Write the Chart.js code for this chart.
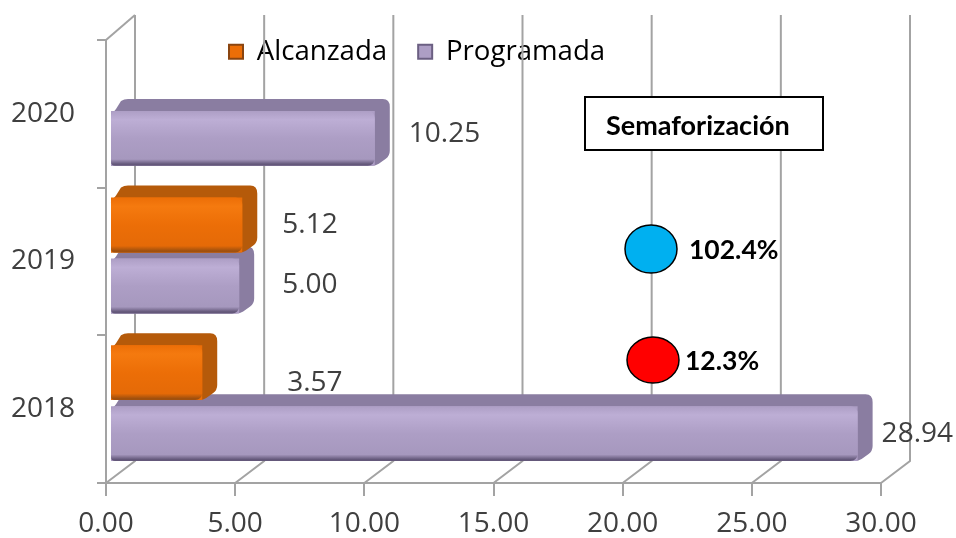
<!DOCTYPE html>
<html><head><meta charset="utf-8">
<style>html,body{margin:0;padding:0;background:#fff}canvas{display:block}</style>
<script src="https://cdn.jsdelivr.net/npm/chart.js@4"></script></head>
<body><canvas id="c" width="956" height="538"></canvas>
<script>
const categories = ['2020', '2019', '2018'];
const alcanzada = [null, 5.12, 3.57];
const programada = [10.25, 5.00, 28.94];
const seriesNames = ['Alcanzada', 'Programada'];
const semaforoTitle = 'Semaforización';
const semaforoLabels = ['102.4%', '12.3%'];
const semaforoColors = ['#00b0f0', '#ff0000'];

const DX = 15, DY = -12, WALLX = 29, WALLY = -22;
const AXIS = '#a3a3a3', INK = '#3f3f3f';
const FONT = '"Open Sans"';
const palette = [
  {base:'#ec6e07', hi:'#f57a0f', low:'#e56a07', edge:'#a0500e', dark:'#b55a0a'},
  {base:'#ad9ec5', hi:'#bdaed5', low:'#a698be', edge:'#64587a', dark:'#8a7da1'}
];
// label nudges from the bar's outer end: [dataset][category] => [dx, y-centre from the bar centre]
const labelNudge = [
  [null, [25, 0], [70, 10]],
  [[19, -4], [28, -1], [9, 0]]
];

const threeD = {
  id: 'threeD',
  beforeDatasetsDraw(chart) {
    const c = chart.ctx, x = chart.scales.x, y = chart.scales.y;
    const top = y.top - 25 , bottom = y.bottom + WALLY;
    c.save();
    c.strokeStyle = AXIS; c.lineWidth = 2;
    x.ticks.forEach(t => {
      const px = x.getPixelForValue(t.value);
      c.beginPath();
      c.moveTo(px, y.bottom);
      c.lineTo(px + WALLX, bottom);
      c.lineTo(px + WALLX, top);
      c.stroke();
    });
    c.beginPath();
    c.moveTo(x.left, y.top); c.lineTo(x.left + WALLX, top);
    c.stroke();
    c.restore();
    c.save();
    c.translate(4, -6);
  },
  beforeDatasetDraw(chart, args) {
    const c = chart.ctx, p = palette[args.index];
    args.meta.data.forEach((b, i) => {
      if (chart.data.datasets[args.index].data[i] == null) return;
      const h = b.height, l = b.base, r = b.x, t = b.y - h / 2, bt = b.y + h / 2;
      c.save();
      c.fillStyle = p.dark;
      c.beginPath();
      c.moveTo(l, t + 6);
      c.quadraticCurveTo(l + 1, t + 2, l + 5, t - 2);
      c.lineTo(l + DX - 5, t + DY + 2);
      c.quadraticCurveTo(l + DX - 2, t + DY, l + DX + 2, t + DY);
      c.lineTo(r + DX - 7, t + DY);
      c.quadraticCurveTo(r + DX, t + DY, r + DX, t + DY + 8);
      c.lineTo(r + DX, bt + DY - 3);
      c.quadraticCurveTo(r + DX, bt + DY + 2, r + DX - 4, bt + DY + 5);
      c.lineTo(r + 4, bt - 2);
      c.quadraticCurveTo(r + 1, bt, r - 3, bt);
      c.lineTo(l, bt);
      c.closePath();
      c.fill();
      c.restore();
    });
  },
  afterDatasetDraw(chart, args) {
    const c = chart.ctx, p = palette[args.index];
    args.meta.data.forEach((b, i) => {
      if (chart.data.datasets[args.index].data[i] == null) return;
      const h = b.height, l = b.base, r = b.x, t = b.y - h / 2;
      const g = c.createLinearGradient(0, t, 0, t + h);
      g.addColorStop(0, p.base);
      g.addColorStop(0.16, p.hi);
      g.addColorStop(0.5, p.base);
      g.addColorStop(0.88, p.low);
      g.addColorStop(0.97, p.edge);
      g.addColorStop(1, p.edge);
      c.save();
      c.fillStyle = g;
      c.beginPath();
      c.roundRect(l, t, r - l, h, [5, 7, 7, 4]);
      c.fill();
      c.restore();
    });
  },
  afterDatasetsDraw(chart) {
    const c = chart.ctx;
    c.restore();
    // value labels
    c.save();
    c.fillStyle = INK;
    c.font = '28px ' + FONT;
    c.textBaseline = 'middle';
    c.textAlign = 'left';
    chart.data.datasets.forEach((ds, di) => {
      const meta = chart.getDatasetMeta(di);
      ds.data.forEach((v, i) => {
        if (v == null) return;
        const b = meta.data[i], n = labelNudge[di][i];
        c.fillText(v.toFixed(2), b.x + 4 + DX + n[0], b.y - 6 + n[1]);
      });
    });
    // semaforización panel
    c.fillStyle = '#fff'; c.strokeStyle = '#000'; c.lineWidth = 2;
    c.fillRect(585, 97, 238, 53); c.strokeRect(585, 97, 238, 53);
    c.fillStyle = '#000';
    c.font = 'bold 27px Lato';
    c.fillText(semaforoTitle, 606, 126);
    c.font = 'bold 26.5px Lato';
    [[651, 249, 26, 24, 689, 250], [653, 360, 26, 23, 685, 361]].forEach((a, i) => {
      c.fillStyle = semaforoColors[i];
      c.strokeStyle = '#000'; c.lineWidth = 1.5;
      c.beginPath(); c.ellipse(a[0], a[1], a[2], a[3], 0, 0, Math.PI * 2);
      c.fill(); c.stroke();
      c.fillStyle = '#000';
      c.fillText(semaforoLabels[i], a[4], a[5]);
    });
    c.restore();
  },
  afterLayout(chart) {
    const lg = chart.legend;
    lg.top = 7; lg.bottom = 100;
    lg.left = 198; lg.right = 198 + 500;
  }
};

new Chart(document.getElementById('c'), {
  type: 'bar',
  plugins: [threeD],
  data: {
    labels: categories,
    datasets: [
      {label: seriesNames[0], data: alcanzada, backgroundColor: palette[0].base, borderColor: '#8a4510', clip: false,
       categoryPercentage: 0.826, barPercentage: 0.9},
      {label: seriesNames[1], data: programada, backgroundColor: palette[1].base, borderColor: '#6b5f82', clip: false,
       categoryPercentage: 0.826, barPercentage: 0.9}
    ]
  },
  options: {
    indexAxis: 'y',
    responsive: false,
    animation: false,
    layout: {padding: {top: 0, right: 75, left: 0, bottom: 0}},
    plugins: {
      tooltip: {enabled: false},
      legend: {
        display: true, position: 'top', align: 'start', maxHeight: 40,
        labels: {
          boxWidth: 14, boxHeight: 14, padding: 31,
          font: {family: FONT, size: 27.6}, color: INK,
          generateLabels(chart) {
            return chart.data.datasets.map((d, i) => ({
              text: d.label, fillStyle: d.backgroundColor, strokeStyle: d.borderColor,
              lineWidth: 2, datasetIndex: i, hidden: false
            }));
          }
        }
      }
    },
    scales: {
      x: {
        type: 'linear', min: 0, max: 30,
        ticks: {stepSize: 5, callback: v => v.toFixed(2), color: INK, font: {family: FONT, size: 28}, padding: 11, maxRotation: 0},
        grid: {drawOnChartArea: false, drawTicks: true, tickLength: 13, color: AXIS, lineWidth: 2},
        border: {color: AXIS, width: 2},
        afterFit(s) { s.height = 55; }
      },
      y: {
        type: 'category',
        ticks: {color: INK, font: {family: FONT, size: 28}, padding: 22},
        grid: {drawOnChartArea: false, drawTicks: true, tickLength: 9, color: AXIS, lineWidth: 2},
        border: {color: AXIS, width: 2},
        afterFit(s) { s.width = 106; }
      }
    }
  }
});
</script></body></html>
